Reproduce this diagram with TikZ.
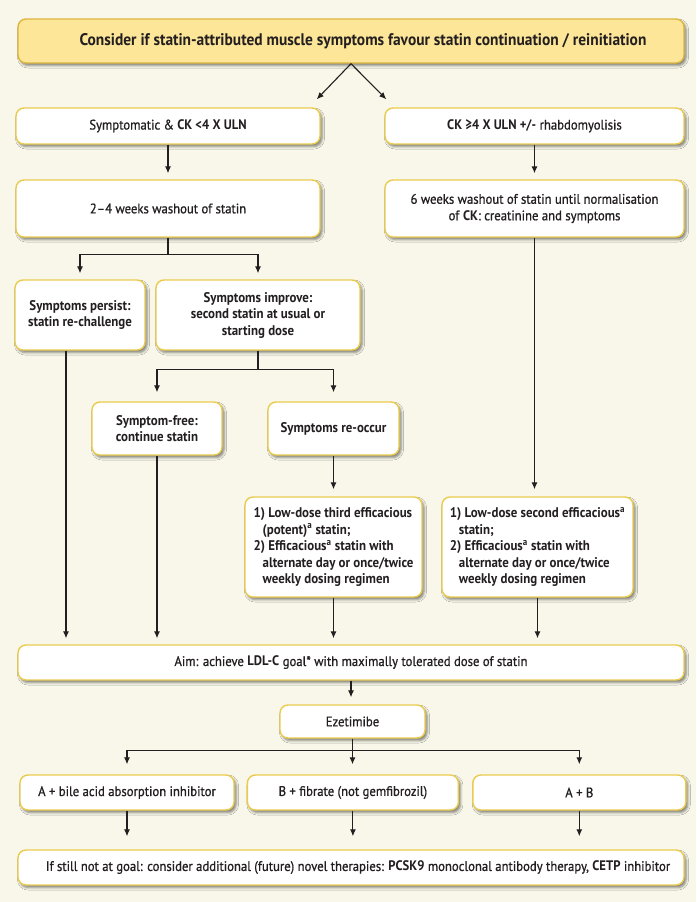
\documentclass[tikz,border=0pt]{standalone}
\usepackage{fontspec}
\setmainfont{PT Sans}[FakeStretch=0.92, UprightFeatures={FakeBold=0.8}]
\usepackage{xcolor}
\usepackage{tikz}
\usetikzlibrary{positioning,arrows.meta,shadows.blur}
\definecolor{GLcream}{HTML}{F8F7E9}
\definecolor{GLgold}{HTML}{EBCB4E}
\definecolor{GLgoldDark}{HTML}{DDB63E}
\definecolor{GLyellow}{HTML}{FDE698}
\definecolor{GLink}{HTML}{231F20}
\tikzset{
  card/.style={rounded corners=8pt, draw=GLgold, line width=1.4pt, fill=white, align=center, text=GLink, inner sep=4pt, font=\fontsize{13.8}{16.5}\selectfont, blur shadow={shadow xshift=2pt, shadow yshift=-2.5pt, shadow blur radius=2.5pt, shadow opacity=50}},
  boldcard/.style={card, font=\fontsize{14}{16.5}\selectfont\bfseries},
  leadcard/.style={card, fill=GLyellow, draw=GLgoldDark, font=\fontsize{16.8}{19}\selectfont\bfseries},
  flowline/.style={line width=1.1pt, draw=GLink},
  flowarr/.style={flowline, -{Latex[length=7pt,width=6pt]}, shorten >=6pt}
}

\begin{document}
\begin{tikzpicture}[x=1pt, y=-1pt]
  \fill[GLcream] (0,0) rectangle (696,902);
  % top of the chart
  \node[leadcard, minimum width=666pt, minimum height=44pt] (lead) at (351,41) {\hspace*{24pt}Consider if statin-attributed muscle symptoms favour statin continuation / reinitiation};
  \node[card, minimum width=304pt, minimum height=36pt] (sympt) at (168,126) {Symptomatic \& \textbf{CK <4 X ULN}};
  \node[card, minimum width=299pt, minimum height=36pt] (ckhigh) at (534.5,126) {\textbf{CK ≥4 X ULN +/-} rhabdomyolisis};
  \node[card, minimum width=304pt, minimum height=57pt] (wash1) at (168,208.5) {2--4 weeks washout of statin};
  \node[card, minimum width=299pt, minimum height=57pt] (wash2) at (534.5,208.5) {6 weeks washout of statin until normalisation\\of \textbf{CK}: creatinine and symptoms};
  \node[boldcard, minimum width=130pt, minimum height=70pt] (persist) at (80,315) {Symptoms persist:\\statin re-challenge};
  \node[boldcard, minimum width=204pt, minimum height=70pt] (improve) at (258,315) {Symptoms improve:\\second statin at usual or\\starting dose};
  \node[boldcard, minimum width=130pt, minimum height=53pt] (free) at (157,428.5) {Symptom-free:\\continue statin};
  \node[boldcard, minimum width=131pt, minimum height=53pt] (reoccur) at (333.5,428.5) {Symptoms re-occur};
  \node[boldcard, align=left, minimum width=177pt, minimum height=100pt] (third) at (333.5,547) {1) Low-dose third efficacious\\\hspace*{9pt}(potent)\textsuperscript{a} statin;\\2) Efficacious\textsuperscript{a} statin with\\\hspace*{9pt}alternate day or once/twice\\\hspace*{9pt}weekly dosing regimen};
  \node[boldcard, align=left, minimum width=191pt, minimum height=100pt] (second) at (537.5,547) {1) Low-dose second efficacious\textsuperscript{a}\\\hspace*{9pt}statin;\\2) Efficacious\textsuperscript{a} statin with\\\hspace*{9pt}alternate day or once/twice\\\hspace*{9pt}weekly dosing regimen};
  % lower part
  \node[card, minimum width=666pt, minimum height=35pt] (aim) at (351,662.5) {Aim: achieve \textbf{LDL-C} goal* with maximally tolerated dose of statin};
  \node[card, minimum width=145pt, minimum height=33pt] (ezet) at (352.5,721.5) {Ezetimibe};
  \node[card, minimum width=214pt, minimum height=35pt] (bile) at (127,792.5) {A + bile acid absorption inhibitor};
  \node[card, minimum width=211pt, minimum height=35pt, right=12pt of bile] (fibr) {B + fibrate (not gemfibrozil)};
  \node[card, minimum width=213pt, minimum height=35pt, right=13pt of fibr] (aplusb) {A + B};
  \node[card, minimum width=666pt, minimum height=35pt] (still) at (351,867.5) {\hspace*{14pt}If still not at goal: consider additional (future) novel therapies: \textbf{PCSK9} monoclonal antibody therapy, \textbf{CETP} inhibitor};

  \draw[flowarr, shorten >=0pt] (lead.south) -- ([shift={(-4pt,8pt)}]sympt.north east);
  \draw[flowarr, shorten >=0pt] (lead.south) -- ([shift={(2pt,8pt)}]ckhigh.north west);
  \draw[flowarr] (sympt) -- (wash1);
  \draw[flowarr] (ckhigh) -- (wash2);
  \draw[flowline] (wash1.south) -- ++(0,17) coordinate (fork1);
  \draw[flowarr] (fork1) -| (persist.north);
  \draw[flowarr] (fork1) -| (improve.north);
  \draw[flowline] (improve.south) -- ++(0,19) coordinate (fork2);
  \draw[flowarr, shorten >=9pt] (fork2) -| (free.north);
  \draw[flowarr, shorten >=9pt] (fork2) -| (reoccur.north);
  \draw[flowarr, shorten >=7pt] (reoccur) -- (third);
  \draw[flowarr, shorten >=7pt] (wash2.south) -- (wash2.south |- second.north);
  \draw[flowarr] ([xshift=-14pt]persist.south) -- ([xshift=-14pt]persist.south |- aim.north);
  \draw[flowarr] (free.south) -- (free.south |- aim.north);
  \draw[flowarr] (third.south) -- (third.south |- aim.north);
  \draw[flowarr] (second.south) -- (second.south |- aim.north);
  \draw[flowarr, shorten >=7pt] (aim.south) -- (aim.south |- ezet.north);
  \draw[flowline] (ezet.south) -- ++(0,12) coordinate (fork3);
  \draw[flowarr, shorten >=10pt] (fork3) -| (bile.north);
  \draw[flowarr, shorten >=10pt] (fork3) -- (fork3 |- fibr.north);
  \draw[flowarr, shorten >=10pt] (fork3) -| (aplusb.north);
  \draw[flowarr, shorten >=13pt] (bile.south) -- (bile.south |- still.north);
  \draw[flowarr, shorten >=13pt] (fibr.south) -- (fibr.south |- still.north);
  \draw[flowarr, shorten >=13pt] (aplusb.south) -- (aplusb.south |- still.north);
\end{tikzpicture}
\end{document}
